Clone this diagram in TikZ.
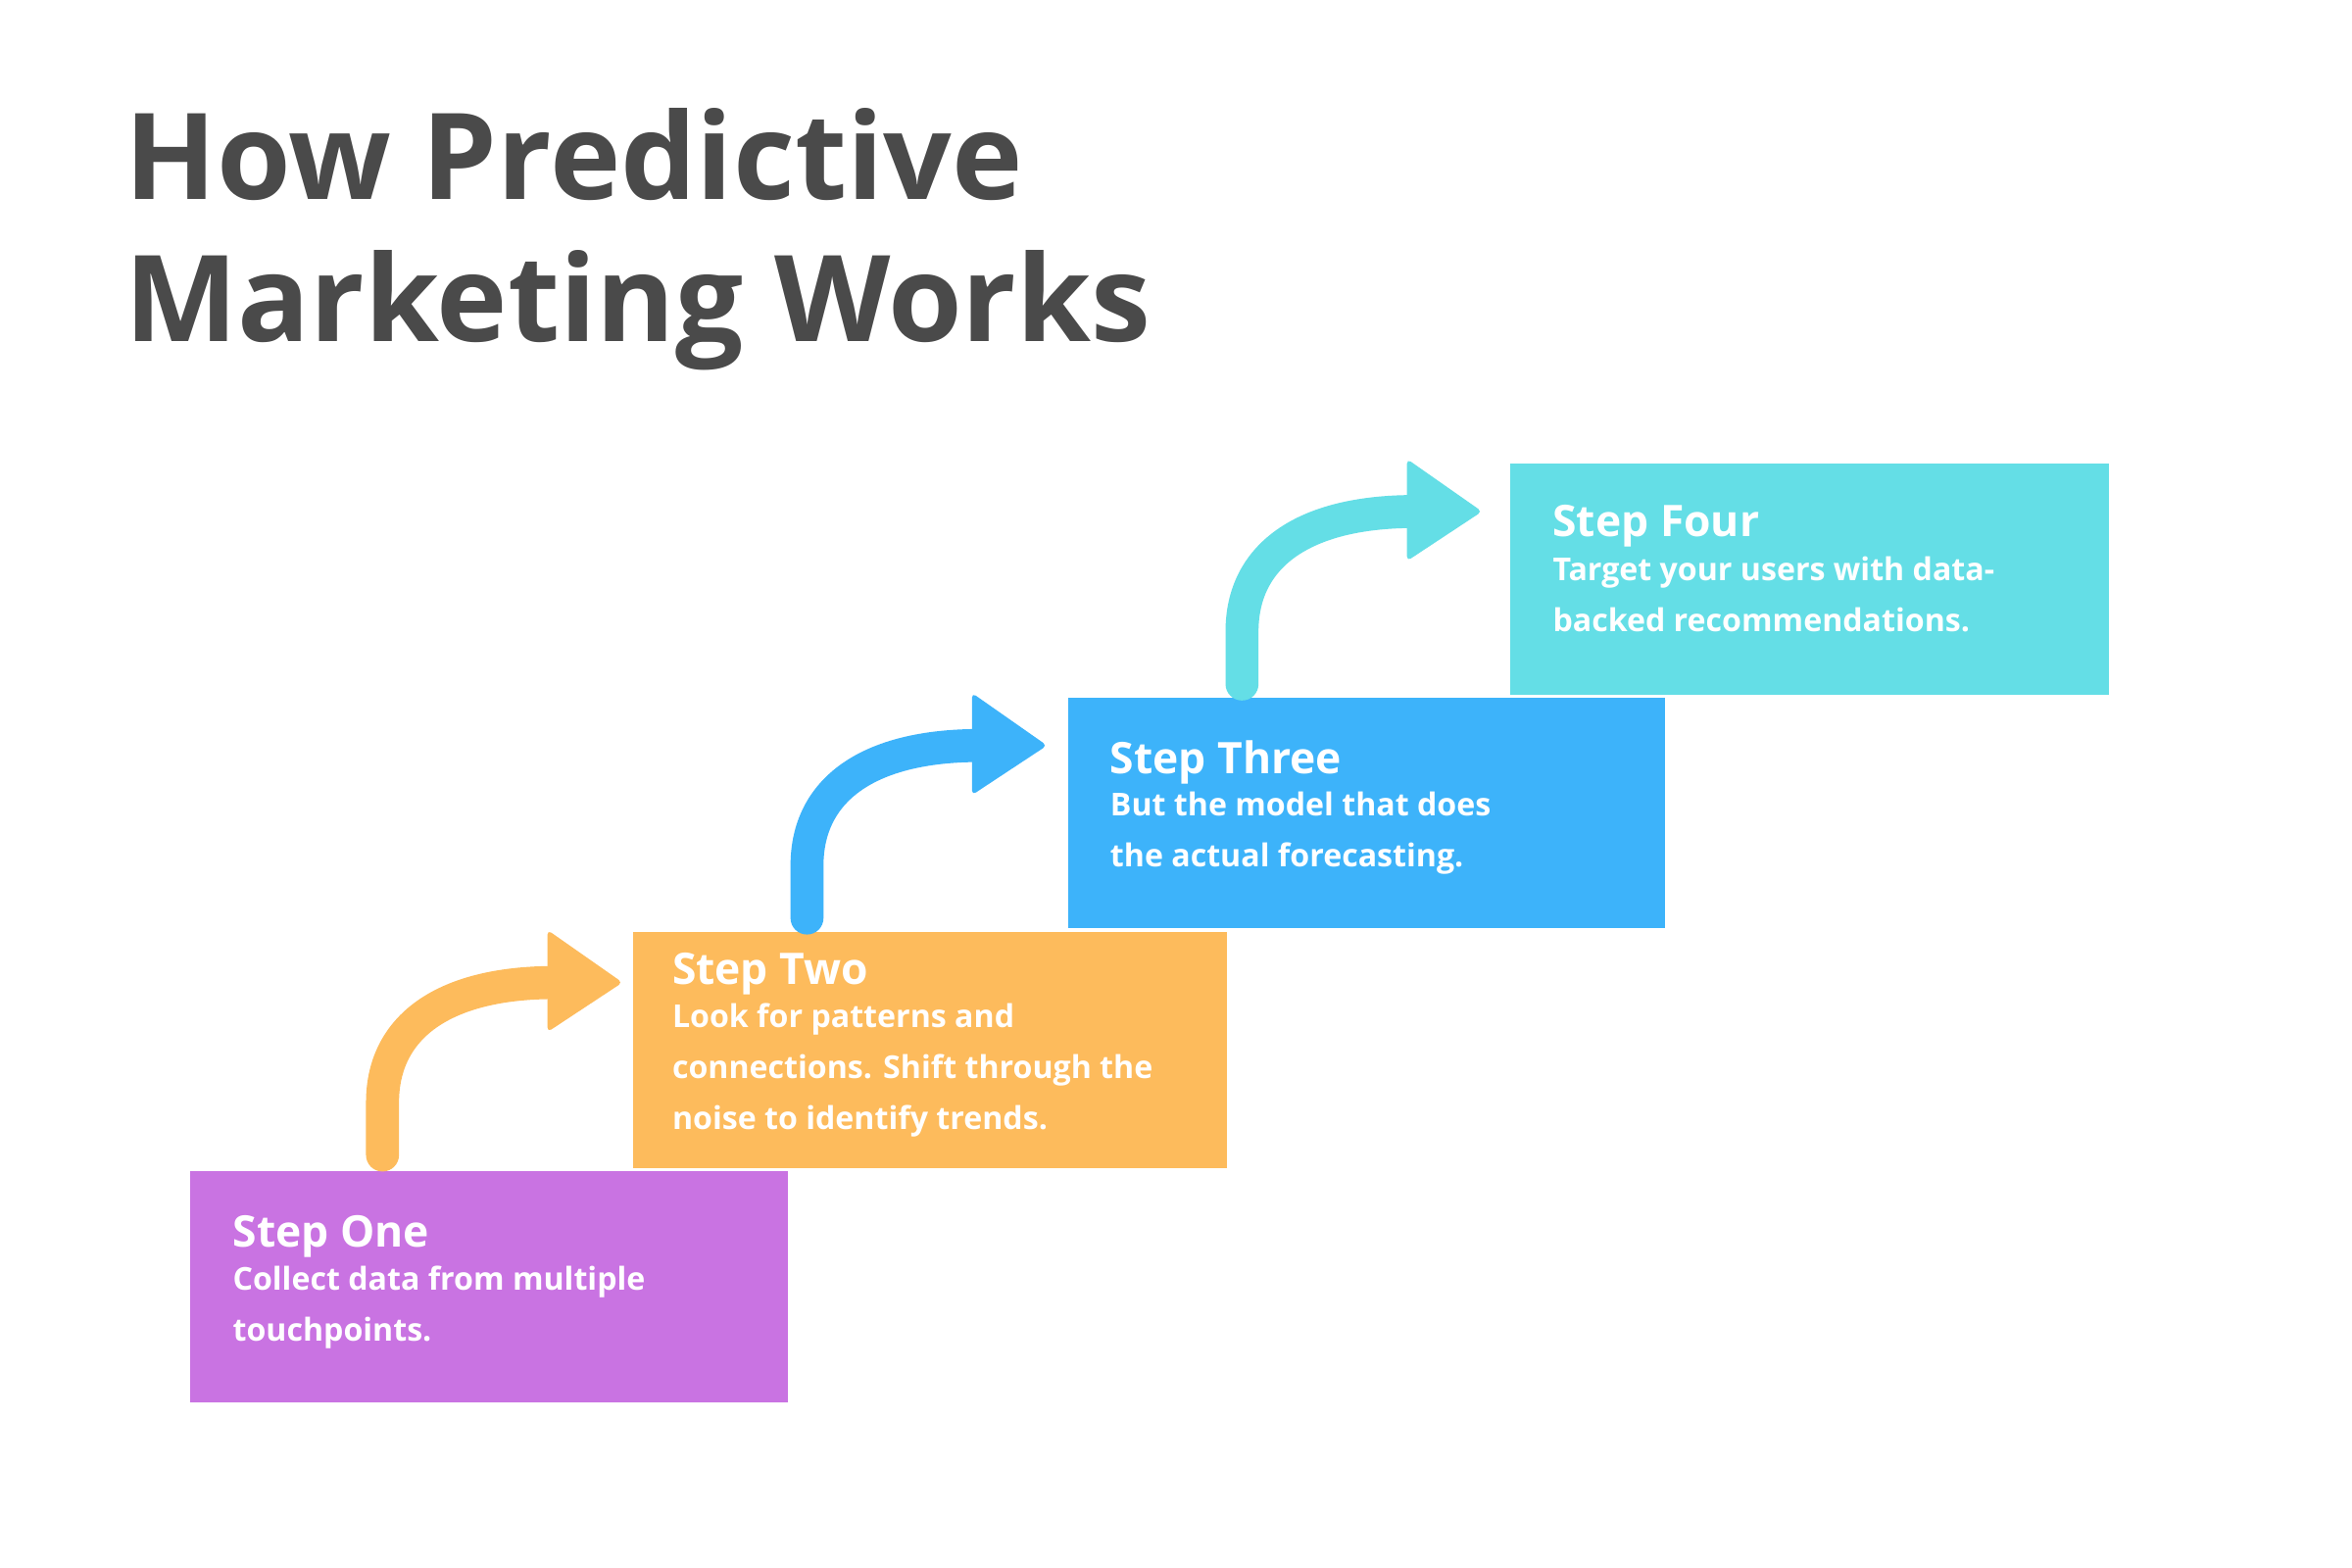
\documentclass[tikz,border=0pt]{standalone}
\usepackage{fontspec}
\setmainfont{Open Sans}
\definecolor{cpur}{HTML}{C973E2}
\definecolor{corg}{HTML}{FDBB5C}
\definecolor{cblu}{HTML}{3DB3FA}
\definecolor{ccya}{HTML}{64DEE6}
\definecolor{ctitle}{HTML}{4A4A4A}
\begin{document}
\begin{tikzpicture}[x=1pt,y=-1pt,
 box/.style={fill=#1,draw=none},
 sttitle/.style={anchor=west,text=white,font=\fontsize{29}{34}\selectfont\bfseries,inner sep=0},
 stbody/.style={anchor=north west,text=white,align=left,inner sep=0,font=\fontsize{21}{34}\selectfont\bfseries},
]
\useasboundingbox[fill=white] (0,0) rectangle (1568,1045);
\node[anchor=north west,align=left,text=ctitle,inner sep=0,font=\fontsize{80}{95}\selectfont\bfseries] (title) at (83,72) {How Predictive\\Marketing Works};
\newcommand\stparrow[3]{%
 \begin{scope}[shift={(#1,#2)}]
 \draw[#3,line width=22,line cap=round] (0,0) -- (0,-35) .. controls (0,-85) and (40,-115) .. (115,-115);
 \fill[#3,rounded corners=3] (110,-150) -- (160,-115) -- (110,-82) -- cycle;
 \end{scope}}
\fill[box=cpur] (127,781) rectangle (525,935);
\fill[box=corg] (422,621) rectangle (818,779);
\fill[box=cblu] (712,465) rectangle (1110,619);
\fill[box=ccya] (1007,309) rectangle (1406,463);
\stparrow{255}{770}{corg}
\stparrow{538}{612}{cblu}
\stparrow{828}{456}{ccya}
\node[sttitle] (t1) at (155,824) {Step One};
\node[stbody] (b1) at (155,844) {Collect data from multiple\\touchpoints.};
\node[sttitle] (t2) at (448,649) {Step Two};
\node[stbody] (b2) at (448,669) {Look for patterns and\\connections. Shift through the\\noise to identify trends.};
\node[sttitle] (t3) at (740,508) {Step Three};
\node[stbody] (b3) at (740,528) {But the model that does\\the actual forecasting.};
\node[sttitle] (t4) at (1035,351) {Step Four};
\node[stbody] (b4) at (1035,371) {Target your users with data-\\backed recommendations.};
\end{tikzpicture}
\end{document}
